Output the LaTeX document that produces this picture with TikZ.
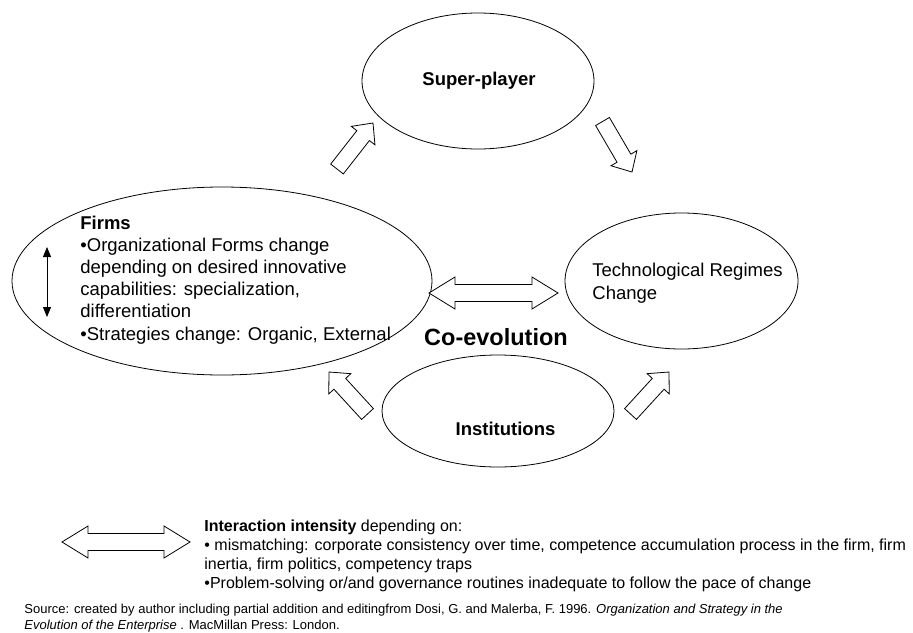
\documentclass[tikz,border=0pt]{standalone}
\usepackage{fontspec}
\setmainfont{Liberation Sans}
\usetikzlibrary{calc,arrows.meta,shapes.geometric}

% single block arrow: tail, tip, half shaft, half head, head length
\newcommand{\blockarrow}[5]{%
  \coordinate (#1-#2) at ($(#2)!#5!(#1)$);
  \draw[blk] ($(#1)!#3!90:(#2)$) -- ($(#1-#2)!#3!-90:(#1)$) -- ($(#1-#2)!#4!-90:(#1)$) -- (#2)
    -- ($(#1-#2)!#4!90:(#1)$) -- ($(#1-#2)!#3!90:(#1)$) -- ($(#1)!#3!-90:(#2)$) -- cycle;}
% double block arrow: end A, end B, half shaft, half head, head length
\newcommand{\dblarrow}[5]{%
  \coordinate (#1-b) at ($(#1)!#5!(#2)$);
  \coordinate (#2-b) at ($(#2)!#5!(#1)$);
  \draw[blk] (#1) -- ($(#1-b)!#4!90:(#2)$) -- ($(#1-b)!#3!90:(#2)$) -- ($(#2-b)!#3!-90:(#1)$)
    -- ($(#2-b)!#4!-90:(#1)$) -- (#2) -- ($(#2-b)!#4!90:(#1)$) -- ($(#2-b)!#3!90:(#1)$)
    -- ($(#1-b)!#3!-90:(#2)$) -- ($(#1-b)!#4!-90:(#2)$) -- cycle;}

\begin{document}
\begin{tikzpicture}[x=1pt,y=-1pt,line width=0.8pt,
  oval/.style={ellipse, draw, inner sep=0pt},
  blk/.style={draw, fill=white, line join=miter},
  big/.style={inner sep=0pt, font=\fontsize{18.5}{22.2}\selectfont},
  legendtxt/.style={inner sep=0pt, align=left, font=\fontsize{16}{19}\selectfont},
  srctxt/.style={inner sep=0pt, font=\fontsize{13}{16.5}\selectfont}]
\useasboundingbox[fill=white] (0,0) rectangle (913,632);

% ellipses
\node[oval, minimum width=232pt, minimum height=136pt] (super) at (478,81) {};
\node[oval, minimum width=420pt, minimum height=188pt] (firms) at (222,281) {};
\node[oval, minimum width=233pt, minimum height=136pt] (tech) at (681.5,281) {};
\node[oval, minimum width=232pt, minimum height=112pt] (inst) at (498,411) {};

% texts
\node[big, font=\fontsize{18.5}{22.2}\selectfont\bfseries] (supertxt) at (479,81) {Super-player};
\node[big, align=left, anchor=north west] (firmstxt) at (80,215.3) {\textbf{Firms}\\
  •Organizational Forms change\\
  depending on desired innovative\\
  capabilities: specialization,\\
  differentiation\\
  •Strategies change: Organic, External};
\node[big, align=left, anchor=north west] (techtxt) at (592,263) {Technological Regimes\\Change};
\node[inner sep=0pt, font=\fontsize{23.5}{28}\selectfont\bfseries] (coevo) at (496,337) {Co-evolution};
\node[big, font=\fontsize{18.5}{22.2}\selectfont\bfseries] (insttxt) at (505.5,429) {Institutions};

% vertical arrow in Firms
\coordinate (vT) at (47,247);
\coordinate (vB) at (47,317);
\draw[line width=0.9pt, {Triangle[width=8pt,length=10pt]}-{Triangle[width=8pt,length=10pt]}] (vT) -- (vB);

% block arrows
\coordinate (a1t) at (337,169);   \coordinate (a1h) at (373,123);
\coordinate (a2t) at (602.5,121.5); \coordinate (a2h) at (632,172);
\coordinate (a3t) at (367.5,414); \coordinate (a3h) at (329,372);
\coordinate (a4t) at (630.5,414); \coordinate (a4h) at (669,372);
\blockarrow{a1t}{a1h}{8pt}{15pt}{16pt}
\blockarrow{a2t}{a2h}{8pt}{15pt}{16pt}
\blockarrow{a3t}{a3h}{8pt}{15pt}{16pt}
\blockarrow{a4t}{a4h}{8pt}{15pt}{16pt}

\coordinate (dL) at (429,293); \coordinate (dR) at (558,293);
\dblarrow{dL}{dR}{8.5pt}{16pt}{26pt}
\coordinate (lL) at (62,542); \coordinate (lR) at (190,542);
\dblarrow{lL}{lR}{8.5pt}{16pt}{26pt}

% legend
\node[legendtxt, anchor=north west] (legend) at (204,519) {\textbf{Interaction intensity} depending on:\\
  • mismatching: corporate consistency over time, competence accumulation process in the firm, firm\\
  inertia, firm politics, competency traps\\
  •Problem-solving or/and governance routines inadequate to follow the pace of change};

% source
\node[srctxt, anchor=base west] (src1) at (24,613) {Source: created by author including partial addition and editingfrom Dosi, G. and Malerba, F. 1996. \textit{Organization and Strategy in the}};
\node[srctxt, anchor=base west] (src2) at (24,629.5) {\textit{Evolution of the Enterprise} . MacMillan Press: London.};
\end{tikzpicture}
\end{document}
